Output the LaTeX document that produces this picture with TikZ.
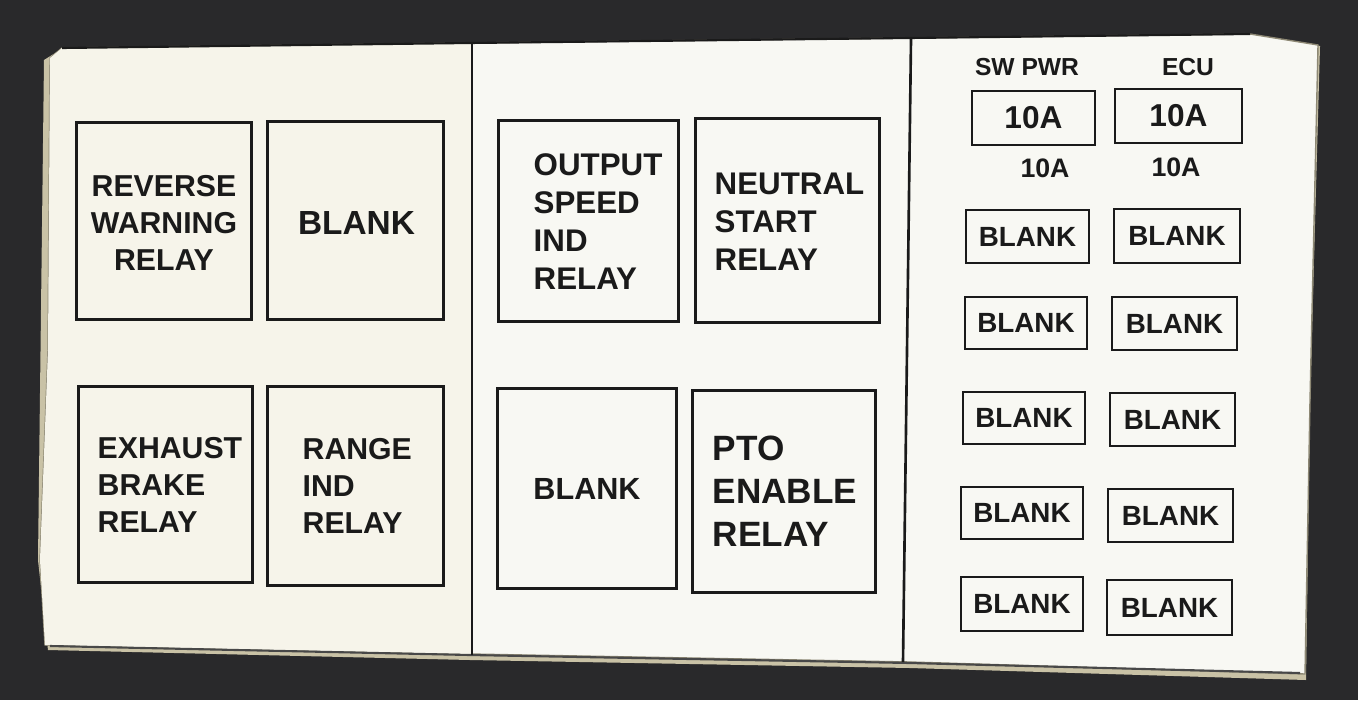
\documentclass[tikz,border=0pt]{standalone}
\usepackage{fontspec}
\setmainfont{Liberation Sans}
\definecolor{bgdark}{HTML}{29292B}
\definecolor{paper}{HTML}{F8F8F3}
\definecolor{papercream}{HTML}{F6F4EA}
\definecolor{paperedge}{HTML}{C9C2A6}
\definecolor{ink}{HTML}{1A1A1A}
\tikzset{
  x=0.01cm, y=-0.01cm,
  relaybox/.style={draw=ink, line width=0.85pt, inner sep=0pt},
  fusebox/.style={draw=ink, line width=0.8pt, inner sep=0pt},
  relaytxt/.style={text=ink, font=\bfseries\fontsize{8.6}{10.5}\selectfont, inner sep=0pt},
  midtxt/.style={text=ink, font=\bfseries\fontsize{8.9}{10.8}\selectfont, inner sep=0pt, align=left, anchor=west},
  bigtxt/.style={text=ink, font=\bfseries\fontsize{10}{12.2}\selectfont, inner sep=0pt, align=left, anchor=west},
  blanktxt/.style={text=ink, font=\bfseries\fontsize{7.9}{9}\selectfont},
  headtxt/.style={text=ink, font=\bfseries\fontsize{7}{8}\selectfont, inner sep=0pt},
  amptxt/.style={text=ink, font=\bfseries\fontsize{9}{10}\selectfont},
  ampsmall/.style={text=ink, font=\bfseries\fontsize{7.6}{8.5}\selectfont, inner sep=0pt},
  divider/.style={draw=ink, line width=0.75pt}
}
\begin{document}
\begin{tikzpicture}
\useasboundingbox (0,0) rectangle (1358,700);
\fill[bgdark] (0,0) rectangle (1358,700);
% underlying paper layer
\fill[paperedge] (44,60) -- (60,50) -- (1260,38) -- (1320,46) -- (1310,400) -- (1306,680) -- (910,668) -- (470,660) -- (48,650) -- (38,560) -- cycle;
% label
\filldraw[fill=paper, draw=paperedge!70!black, line width=0.4pt]
  (50,58) -- (62,48) -- (470,43) -- (910,38) -- (1250,34) -- (1318,45) -- (1310,400) -- (1305,674) -- (910,662) -- (470,654) -- (45,645) -- (40,560) -- (48,350) -- cycle;
\fill[papercream] (50,58) -- (62,48) -- (472,43) -- (472,654) -- (45,645) -- (40,560) -- (48,350) -- cycle;
% printed top and bottom border
\draw[ink, line width=0.6pt] (62,48) -- (470,43) -- (910,38) -- (1250,34);
\draw[ink!80, line width=0.6pt] (50,646) -- (470,655) -- (910,663) -- (1300,673);
% dividers
\coordinate (d1t) at (472,44); \coordinate (d1b) at (472,655);
\coordinate (d2t) at (911,39); \coordinate (d2b) at (903,662);
\draw[divider] (d1t) -- (d1b);
\draw[divider] (d2t) -- (d2b);

% ---- left panel ----
\node[relaybox, minimum width=1.74cm, minimum height=1.96cm] (rw) at (164,221) {};
\node[relaytxt, align=center] (rwt) at (164,223) {REVERSE\\WARNING\\RELAY};
\node[relaybox, minimum width=1.75cm, minimum height=1.97cm] (bl1) at (355.5,220.5) {};
\node[text=ink, font=\bfseries\fontsize{9.5}{11}\selectfont, inner sep=0pt] (bl1t) at (356.5,223) {BLANK};
\node[relaybox, minimum width=1.73cm, minimum height=1.95cm] (eb) at (165.5,484.5) {};
\node[relaytxt, align=left, anchor=west] (ebt) at (97,485) {EXHAUST\\BRAKE\\RELAY};
\node[relaybox, minimum width=1.75cm, minimum height=1.98cm] (ri) at (355.5,486) {};
\node[relaytxt, align=left, anchor=west] (rit) at (302,486) {RANGE\\IND\\RELAY};

% ---- middle panel ----
\node[relaybox, minimum width=1.79cm, minimum height=2.00cm] (os) at (588.5,221) {};
\node[midtxt] (ost) at (533,222) {OUTPUT\\SPEED\\IND\\RELAY};
\node[relaybox, minimum width=1.83cm, minimum height=2.03cm] (ns) at (787.5,220.5) {};
\node[midtxt] (nst) at (714,222) {NEUTRAL\\START\\RELAY};
\node[relaybox, minimum width=1.78cm, minimum height=1.99cm] (bl2) at (587,488.5) {};
\node[text=ink, font=\bfseries\fontsize{8.7}{10}\selectfont, inner sep=0pt] (bl2t) at (587,489) {BLANK};
\node[relaybox, minimum width=1.82cm, minimum height=2.01cm] (pto) at (784,491.5) {};
\node[bigtxt] (ptot) at (712,491) {PTO\\ENABLE\\RELAY};

% ---- right panel ----
\node[headtxt] (swpwr) at (1027,67) {SW PWR};
\node[headtxt] (ecu) at (1188,67) {ECU};
\node[fusebox, amptxt, minimum width=1.23cm, minimum height=0.54cm] (f1) at (1033.5,118) {10A};
\node[fusebox, amptxt, minimum width=1.27cm, minimum height=0.54cm] (f2) at (1178.5,116) {10A};
\node[ampsmall] (a1) at (1045,168) {10A};
\node[ampsmall] (a2) at (1176,167) {10A};

\node[fusebox, blanktxt, minimum width=1.23cm, minimum height=0.53cm] (b1l) at (1027.5,236.5) {BLANK};
\node[fusebox, blanktxt, minimum width=1.26cm, minimum height=0.54cm] (b1r) at (1177,236) {BLANK};
\node[fusebox, blanktxt, minimum width=1.22cm, minimum height=0.52cm] (b2l) at (1026,323) {BLANK};
\node[fusebox, blanktxt, minimum width=1.25cm, minimum height=0.53cm] (b2r) at (1174.5,323.5) {BLANK};
\node[fusebox, blanktxt, minimum width=1.22cm, minimum height=0.52cm] (b3l) at (1024,418) {BLANK};
\node[fusebox, blanktxt, minimum width=1.25cm, minimum height=0.53cm] (b3r) at (1172.5,419.5) {BLANK};
\node[fusebox, blanktxt, minimum width=1.22cm, minimum height=0.52cm] (b4l) at (1022,513) {BLANK};
\node[fusebox, blanktxt, minimum width=1.25cm, minimum height=0.53cm] (b4r) at (1170.5,515.5) {BLANK};
\node[fusebox, blanktxt, minimum width=1.22cm, minimum height=0.54cm] (b5l) at (1022,604) {BLANK};
\node[fusebox, blanktxt, minimum width=1.25cm, minimum height=0.55cm] (b5r) at (1169.5,607.5) {BLANK};
\end{tikzpicture}
\end{document}
